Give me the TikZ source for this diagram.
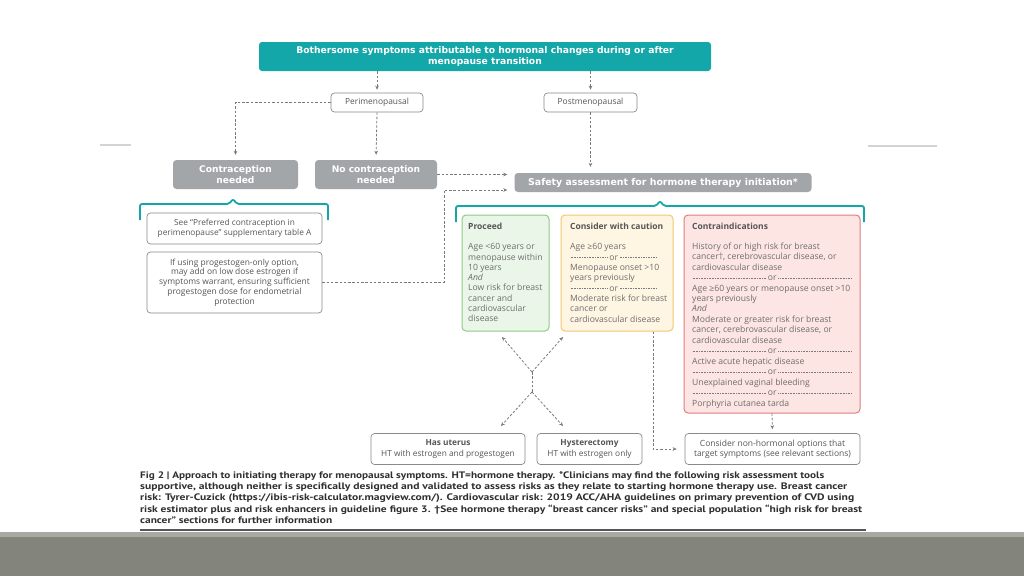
\documentclass[tikz,border=0pt]{standalone}
\usepackage{fontspec}
\usepackage{graphicx}
\setmainfont{Open Sans}
\setsansfont{Open Sans}
\newfontfamily\capfont{PT Sans}
\newfontfamily\boldfont{DejaVu Sans}
\usetikzlibrary{arrows.meta}
\definecolor{teal1}{HTML}{14A7A9}
\definecolor{gbox}{HTML}{A3A6A8}
\definecolor{txt}{HTML}{6E6E6E}
\definecolor{ttl}{HTML}{555555}
\definecolor{bord}{HTML}{8A8A8A}
\definecolor{conc}{HTML}{7A7A7A}
\definecolor{grnf}{HTML}{EAF6E7}
\definecolor{grnd}{HTML}{8ECB86}
\definecolor{orf}{HTML}{FFF5E3}
\definecolor{ord}{HTML}{F5C66F}
\definecolor{redf}{HTML}{FCE5E2}
\definecolor{redd}{HTML}{E47C7C}
\definecolor{band}{HTML}{83847B}
\definecolor{bandl}{HTML}{A8A9A2}
\definecolor{capc}{HTML}{2F2F2F}
\definecolor{decor}{HTML}{D3D3D3}
\newcommand\orln[1]{\hbox to #1{{\color{conc}\xleaders\hbox to 1.6pt{\hss\rule[2.6pt]{1pt}{0.3pt}\hss}\hfill}\,or\,{\color{conc}\xleaders\hbox to 1.6pt{\hss\rule[2.6pt]{1pt}{0.3pt}\hss}\hfill}}}
\newcommand\capline[2]{\resizebox{#1}{\height}{#2}}
\tikzset{
  tealbox/.style={fill=teal1, rounded corners=3, text=white, font=\boldfont\bfseries\fontsize{9.2}{10.2}\selectfont, align=center, inner sep=0},
  wbox/.style={draw=bord, fill=white, rounded corners=3.5, line width=0.7, font=\fontsize{8.4}{9.4}\selectfont, text=ttl, align=center, inner sep=0},
  gbx/.style={fill=gbox, rounded corners=3.5, text=white, font=\boldfont\bfseries\fontsize{9.1}{10.4}\selectfont, align=center, inner sep=0},
  cbox/.style={rounded corners=4, line width=1, inner sep=0},
  ttlt/.style={font=\bfseries\fontsize{8.5}{9}\selectfont, text=ttl, inner sep=0, anchor=west},
  body/.style={font=\fontsize{8.6}{10.25}\selectfont, text=txt, align=left, inner sep=0, anchor=north west},
  conn/.style={draw=conc, line width=0.8, dash pattern=on 2.5pt off 1.8pt, -{Stealth[length=4pt,width=3.6pt]}},
  cline/.style={draw=conc, line width=0.8, dash pattern=on 2.5pt off 1.8pt},
  brace/.style={draw=teal1, line width=1.8, rounded corners=2},
  capt/.style={font=\capfont\bfseries\fontsize{9.4}{11}\selectfont, text=capc, inner sep=0, anchor=west}
}
\begin{document}
\begin{tikzpicture}[x=1pt,y=-1pt]
\useasboundingbox (0,0) rectangle (1024,576);
\fill[white] (0,0) rectangle (1024,576);
\fill[bandl] (0,532) rectangle (1024,576);
\fill[band] (0,537) rectangle (1024,576);
\draw[decor, line width=1.2] (100,145) -- (131,145);
\draw[decor, line width=1.2] (868,146) -- (937,146);
\draw[ttl, line width=1.5] (140,530) -- (866,530);

\node[tealbox, minimum width=452, minimum height=29] (top) at (485,56.5) {Bothersome symptoms attributable to hormonal changes during or after\\menopause transition};
\node[wbox, minimum width=92, minimum height=19] (peri) at (377,102.5) {Perimenopausal};
\node[wbox, minimum width=93, minimum height=19] (post) at (590.5,102.5) {Postmenopausal};
\node[gbx, minimum width=125, minimum height=29] (cn) at (235.5,174.5) {Contraception\\needed};
\node[gbx, minimum width=122, minimum height=29] (ncn) at (376,174.5) {No contraception\\needed};
\node[gbx, minimum width=297, minimum height=19, font=\boldfont\bfseries\fontsize{9.4}{10.4}\selectfont] (safe) at (663,182.5) {Safety assessment for hormone therapy initiation*};

\draw[brace] (140,220) -- (140,204) -- (229,204) -- (233,199) -- (237,204) -- (328,204) -- (328,220);
\draw[brace] (456,222) -- (456,206) -- (656,206) -- (660,201) -- (664,206) -- (864,206) -- (864,222);

\node[wbox, minimum width=175, minimum height=31, font=\fontsize{8.3}{9.8}\selectfont] (pref) at (234.5,228.5) {See “Preferred contraception in\\perimenopause” supplementary table A};
\node[wbox, minimum width=175, minimum height=61, font=\fontsize{8.4}{9.8}\selectfont] (prog) at (234.5,282.5) {If using progestogen-only option,\\may add on low dose estrogen if\\symptoms warrant, ensuring sufficient\\progestogen dose for endometrial\\protection};

\node[cbox, fill=grnf, draw=grnd, minimum width=87, minimum height=116] (proc) at (505.5,273) {};
\node[cbox, fill=orf, draw=ord, minimum width=112, minimum height=116] (caut) at (617,273) {};
\node[cbox, fill=redf, draw=redd, minimum width=176, minimum height=198] (contra) at (772,314) {};

\node[ttlt] (proct) at (468,226.5) {Proceed};
\node[ttlt] (cautt) at (570,226.5) {Consider with caution};
\node[ttlt] (contrat) at (692,226.5) {Contraindications};

\node[body] (procb) at (468,243.5) {Age <60 years or\\menopause within\\10 years\\\textit{And}\\Low risk for breast\\cancer and\\cardiovascular\\disease};
\node[body, font=\fontsize{8.6}{10.3}\selectfont] (cautb) at (570,243.5) {Age ≥60 years\\\orln{87pt}\\Menopause onset >10\\years previously\\\orln{87pt}\\Moderate risk for breast\\cancer or\\cardiovascular disease};
\node[body, font=\fontsize{8.6}{10.45}\selectfont] (contrab) at (692,242.5) {History of or high risk for breast\\cancer†, cerebrovascular disease, or\\cardiovascular disease\\\orln{160pt}\\Age ≥60 years or menopause onset >10\\years previously\\\textit{And}\\Moderate or greater risk for breast\\cancer, cerebrovascular disease, or\\cardiovascular disease\\\orln{160pt}\\Active acute hepatic disease\\\orln{160pt}\\Unexplained vaginal bleeding\\\orln{160pt}\\Porphyria cutanea tarda};

\node[wbox, minimum width=154, minimum height=31, font=\fontsize{8.3}{10.5}\selectfont] (ut) at (448,449) {\textbf{Has uterus}\\HT with estrogen and progestogen};
\node[wbox, minimum width=105, minimum height=31, font=\fontsize{8.3}{10.5}\selectfont] (hys) at (589.5,449) {\textbf{Hysterectomy}\\HT with estrogen only};
\node[wbox, minimum width=175, minimum height=31, font=\fontsize{8.5}{10}\selectfont] (nonh) at (772.5,449) {Consider non-hormonal options that\\target symptoms (see relevant sections)};

\draw[conn, shorten >=3] (top.south -| peri) -- (peri.north);
\draw[conn, shorten >=3] (top.south -| post) -- (post.north);
\draw[conn, shorten >=5] (peri.west) -| (cn.north);
\draw[conn, shorten >=5] (peri.south) -- (ncn.north);
\draw[conn, shorten >=6] (post.south) -- (post.south |- safe.north);
\draw[conn, shorten >=7] (ncn.east) -- (ncn.east -| safe.west);
\coordinate (jn) at (444,190);
\draw[conn, shorten >=7] (prog.east) -| (jn) -- (jn -| safe.west);

\coordinate (cu) at (532,372);
\coordinate (cl) at (532,392);
\coordinate (tl) at (502,337);
\coordinate (tr) at (563,337);
\coordinate (bl) at (501,426);
\coordinate (br) at (563,426);
\draw[conn] (cu) -- (tl);
\draw[conn] (cu) -- (tr);
\draw[cline] (cu) -- (cl);
\draw[conn] (cl) -- (bl);
\draw[conn] (cl) -- (br);

\draw[conn, shorten >=8] ([xshift=36]caut.south) |- (nonh.west);
\draw[conn, shorten >=4] (contra.south) -- (nonh.north);

\node[capt] (c1) at (140,476) {\capline{684pt}{Fig 2 | Approach to initiating therapy for menopausal symptoms. HT=hormone therapy. *Clinicians may find the following risk assessment tools}};
\node[capt] (c2) at (140,487) {\capline{707pt}{supportive, although neither is specifically designed and validated to assess risks as they relate to starting hormone therapy use. Breast cancer}};
\node[capt] (c3) at (140,498) {\capline{714pt}{risk: Tyrer-Cuzick (https://ibis-risk-calculator.magview.com/). Cardiovascular risk: 2019 ACC/AHA guidelines on primary prevention of CVD using}};
\node[capt] (c4) at (140,509.5) {\capline{722pt}{risk estimator plus and risk enhancers in guideline figure 3. †See hormone therapy “breast cancer risks” and special population “high risk for breast}};
\node[capt] (c5) at (140,520.5) {\capline{192pt}{cancer” sections for further information}};
\end{tikzpicture}
\end{document}
